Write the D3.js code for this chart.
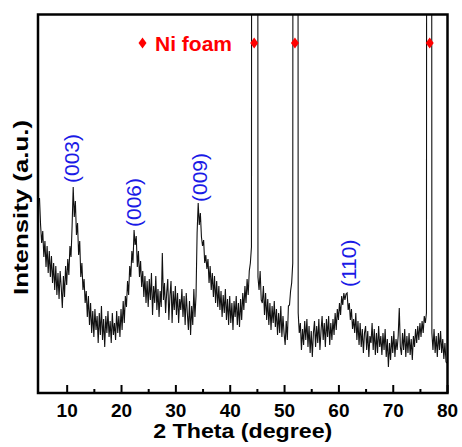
<!DOCTYPE html>
<html>
<head>
<meta charset="utf-8">
<script src="https://cdn.jsdelivr.net/npm/d3@7"></script>
<style>
  body { margin: 0; background: #fff; }
  text { font-family: Arial, "Liberation Sans", sans-serif; }
</style>
</head>
<body>
<div class="svg-container"></div>
<script>
//Scan settings (degrees 2theta)
const scanStart = 5;
const scanStep = 0.2;

//Intensity (a.u.), one row per degree, 5 points per row
//the Ni foam reflections go far off the top and get clipped (value 2500)
const counts = [
  195, 168, 150, 162, 136,   // 5
  152, 126, 147, 120, 142,   // 6
  116, 137, 110, 130, 103,   // 7
  127,  98, 120,  94, 122,   // 8
  106,  85, 117,  96, 127,   // 9
  108, 134, 118, 147, 136,   // 10
  167, 206, 176, 192, 158,   // 11
  170, 138, 152, 116, 130,   // 12
  103, 114,  90, 102,  76,   // 13
   97,  68,  90,  60,  82,   // 14
   56,  84,  63,  77,  50,   // 15
   80,  58,  87,  53,  74,   // 16
   46,  77,  60,  82,  56,   // 17
   72,  50,  80,  58,  70,   // 18
   53,  82,  60,  77,  56,   // 19
   84,  63,  92,  70,  97,   // 20
   86, 112,  98, 127, 116,   // 21
  142, 130, 163, 148, 157,   // 22
  126, 142, 116, 132, 106,   // 23
  122,  96, 117,  90, 112,   // 24
   86, 114,  93, 120,  78,   // 25
  107,  90, 117,  83, 104,   // 26
   76, 102,  86, 140,  93,   // 27
  110,  80, 100, 114,  73,   // 28
   97, 112,  70, 102,  83,   // 29
  107,  78, 100,  70,  94,   // 30
   83, 104,  76,  97,  68,   // 31
  100,  80,  63,  92,  58,   // 32
   87,  68, 104,  76,  97,   // 33
  160, 190, 168, 180, 156,   // 34
  147, 153, 130, 138, 124,   // 35
  134, 110, 127, 103, 120,   // 36
   96, 117,  90, 112,  86,   // 37
  107,  83, 102,  76,  98,   // 38
   80, 104,  73,  94,  68,   // 39
   97,  70,  90,  63,  92,   // 40
   76,  97,  68,  90,  66,   // 41
   94,  73, 100,  83, 107,   // 42
   90, 114,  98, 122, 130,   // 43
  146, 2500, 2500, 2500, 2500, // 44
  2500, 116, 103, 122,  93,  // 45
   90, 107,  78, 100,  73,   // 46
   94,  68,  90,  63,  87,   // 47
   70,  92,  66,  84,  58,   // 48
   80,  60,  87,  56,  77,   // 49
   60,  48,  72,  53,  87,   // 50
   88, 102, 110, 130, 2500,  // 51
  2500, 2500, 2500, 80, 60,  // 52
   70,  43,  64,  48,  72,   // 53
   53,  74,  46,  67,  40,   // 54
   62,  36,  60,  72,  46,   // 55
   67,  50,  74,  43,  62,   // 56
   77,  53,  70,  46,  74,   // 57
   56,  77,  48,  70,  53,   // 58
   74,  58,  80,  63,  84,   // 59
   73,  90,  78,  97,  88,   // 60
  100,  93,  99, 100,  83,   // 61
   90,  73,  84,  64,  74,   // 62
   60,  80,  53,  72,  48,   // 63
   70,  46,  64,  40,  60,   // 64
   67,  43,  62,  36,  57,   // 65
   50,  70,  43,  64,  38,   // 66
   60,  40,  67,  46,  57,   // 67
   38,  60,  43,  64,  36,   // 68
   54,  26,  50,  33,  57,   // 69
   40,  62,  36,  54,  43,   // 70
   57,  85,  46,  38,  60,   // 71
   43,  64,  36,  57,  40,   // 72
   60,  38,  54,  33,  57,   // 73
   46,  64,  50,  67,  53,   // 74
   70,  56,  72,  60,  77,   // 75
   70,  80, 2500, 2500, 2500, // 76
  2500, 60,  43,  64,  40,   // 77
   57,  36,  60,  43,  62,   // 78
   40,  54,  34,  50,  31,   // 79
   30                        // 80
];

//Peak labels (LDH reflections)
const hklLabels = ['(003)', '(006)', '(009)', '(110)'];
const hklTheta = [11.0, 22.4, 34.5, 61.8];
const hklIntensity = [210, 166, 191, 106];

//Ni foam markers
const niTheta = [44.5, 52.0, 76.8];
const niLegend = 'Ni foam';

//Axis ticks
const majorTicks = [10, 20, 30, 40, 50, 60, 70, 80];
const minorTicks = [15, 25, 35, 45, 55, 65, 75];

const data = counts.map((c, i) => ({ theta: scanStart + i * scanStep, intensity: c }));

const W = 462, H = 447;
const frame = { left: 38, top: 14.5, right: 447.5, bottom: 393 };

const svg = d3.select('.svg-container')
  .append('svg')
  .attr('width', W)
  .attr('height', H);

const xScale = d3.scaleLinear()
  .domain([5, 80])
  .range([39.5, 447.1]);

const yScale = d3.scaleLinear()
  .domain([0, frame.bottom - frame.top])
  .range([frame.bottom, frame.top]);

//clip so the Ni peaks stop at the frame
svg.append('clipPath')
  .attr('id', 'plot-clip')
  .append('rect')
  .attr('x', frame.left)
  .attr('y', frame.top)
  .attr('width', frame.right - frame.left)
  .attr('height', frame.bottom - frame.top);

const line = d3.line()
  .x(d => xScale(d.theta))
  .y(d => yScale(d.intensity));

svg.append('path')
  .datum(data)
  .attr('clip-path', 'url(#plot-clip)')
  .attr('fill', 'none')
  .attr('stroke', '#111')
  .attr('stroke-width', 1.1)
  .attr('stroke-linejoin', 'miter')
  .attr('d', line);

//Frame
svg.append('rect')
  .attr('x', frame.left)
  .attr('y', frame.top)
  .attr('width', frame.right - frame.left)
  .attr('height', frame.bottom - frame.top)
  .attr('fill', 'none')
  .attr('stroke', '#000')
  .attr('stroke-width', 2.5);

//Bottom axis, ticks pointing in
const xAxis = d3.axisBottom(xScale)
  .tickValues(majorTicks)
  .tickFormat(d3.format('d'))
  .tickSizeInner(-8)
  .tickSizeOuter(0)
  .tickPadding(11);

const xAxisDraw = svg.append('g')
  .attr('class', 'x axis')
  .attr('transform', `translate(0, ${frame.bottom})`)
  .call(xAxis);

xAxisDraw.select('.domain').remove();
xAxisDraw.selectAll('line').attr('stroke', '#000').attr('stroke-width', 2);
xAxisDraw.selectAll('text')
  .attr('fill', '#000')
  .style('font-size', '19px')
  .style('font-weight', 'bold');

const xMinor = d3.axisBottom(xScale)
  .tickValues(minorTicks)
  .tickFormat('')
  .tickSizeInner(-4)
  .tickSizeOuter(0);

const xMinorDraw = svg.append('g')
  .attr('class', 'x minor')
  .attr('transform', `translate(0, ${frame.bottom})`)
  .call(xMinor);

xMinorDraw.select('.domain').remove();
xMinorDraw.selectAll('line').attr('stroke', '#000').attr('stroke-width', 2);

//Axis titles
svg.append('text')
  .attr('x', (frame.left + frame.right) / 2)
  .attr('y', 438)
  .attr('text-anchor', 'middle')
  .attr('textLength', 179)
  .attr('lengthAdjust', 'spacingAndGlyphs')
  .style('font-size', '20px')
  .style('font-weight', 'bold')
  .text('2 Theta (degree)');

svg.append('text')
  .attr('transform', 'translate(28, 207.5) rotate(-90)')
  .attr('text-anchor', 'middle')
  .attr('textLength', 175)
  .attr('lengthAdjust', 'spacingAndGlyphs')
  .style('font-size', '21px')
  .style('font-weight', 'bold')
  .text('Intensity (a.u.)');

//hkl labels
svg.selectAll('.hkl')
  .data(hklLabels)
  .enter()
  .append('text')
  .attr('class', 'hkl')
  .attr('transform', (d, i) => `translate(${xScale(hklTheta[i])}, ${yScale(hklIntensity[i])}) rotate(-90)`)
  .attr('dy', '0.35em')
  .attr('fill', '#1a1ae6')
  .style('font-size', '21px')
  .text(d => d);

//Ni foam markers
const diamond = 'M0,-5.5L4,0L0,5.5L-4,0Z';

svg.selectAll('.ni')
  .data(niTheta)
  .enter()
  .append('path')
  .attr('class', 'ni')
  .attr('d', diamond)
  .attr('transform', d => `translate(${xScale(d)}, 43)`)
  .attr('fill', '#ff0000');

const legend = svg.append('g')
  .attr('transform', 'translate(142.5, 43)');

legend.append('path')
  .attr('d', diamond)
  .attr('fill', '#ff0000');

legend.append('text')
  .attr('x', 12.5)
  .attr('y', 7.5)
  .attr('fill', '#ff0000')
  .style('font-size', '21px')
  .style('font-weight', 'bold')
  .text(niLegend);
</script>
</body>
</html>
